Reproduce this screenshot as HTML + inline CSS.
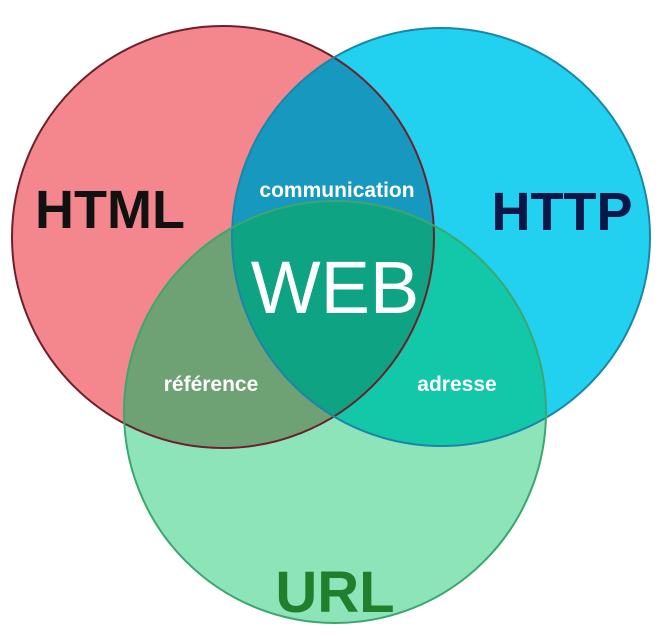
<!DOCTYPE html>
<html><head><meta charset="utf-8"><style>
html,body{margin:0;padding:0;background:#fff;}
svg{display:block;}
text{font-family:"Liberation Sans",sans-serif;}
</style></head><body>
<svg width="669" height="638" viewBox="0 0 669 638" xmlns="http://www.w3.org/2000/svg">
<defs>
<clipPath id="cr"><circle cx="223" cy="237" r="211"/></clipPath>
<clipPath id="cb"><circle cx="441" cy="237" r="209"/></clipPath>
<clipPath id="cg"><circle cx="335" cy="412" r="211"/></clipPath>
</defs>
<rect width="669" height="638" fill="#fff"/>
<circle cx="223" cy="237" r="211" fill="#f4878e"/>
<circle cx="441" cy="237" r="209" fill="#21d1ef"/>
<circle cx="335" cy="412" r="211" fill="#8ee4b9"/>
<g clip-path="url(#cr)">
<circle cx="441" cy="237" r="209" fill="#1799bf"/>
<circle cx="335" cy="412" r="211" fill="#6ea274"/>
</g>
<g clip-path="url(#cb)">
<circle cx="335" cy="412" r="211" fill="#12c8a8"/>
</g>
<g clip-path="url(#cr)"><g clip-path="url(#cb)">
<circle cx="335" cy="412" r="211" fill="#0ea383"/>
</g></g>
<circle cx="223" cy="237" r="211" fill="none" stroke="#6e1f2a" stroke-width="2"/>
<circle cx="441" cy="237" r="209" fill="none" stroke="#1a86a8" stroke-width="2"/>
<circle cx="335" cy="412" r="211" fill="none" stroke="#3aa86e" stroke-width="2"/>
<text x="110" y="228" font-size="54" font-weight="bold" fill="#111" text-anchor="middle">HTML</text>
<text x="562" y="230" font-size="54" font-weight="bold" fill="#0b1748" text-anchor="middle">HTTP</text>
<text x="335" y="612" font-size="58" font-weight="bold" fill="#1f7f2c" text-anchor="middle">URL</text>
<text x="335" y="313" font-size="74" fill="#fff" text-anchor="middle">WEB</text>
<text x="337" y="197" font-size="21" font-weight="bold" fill="#fff" text-anchor="middle">communication</text>
<text x="211" y="391" font-size="21" font-weight="bold" fill="#fff" text-anchor="middle">référence</text>
<text x="457" y="391" font-size="21" font-weight="bold" fill="#fff" text-anchor="middle">adresse</text>
</svg>
</body></html>
